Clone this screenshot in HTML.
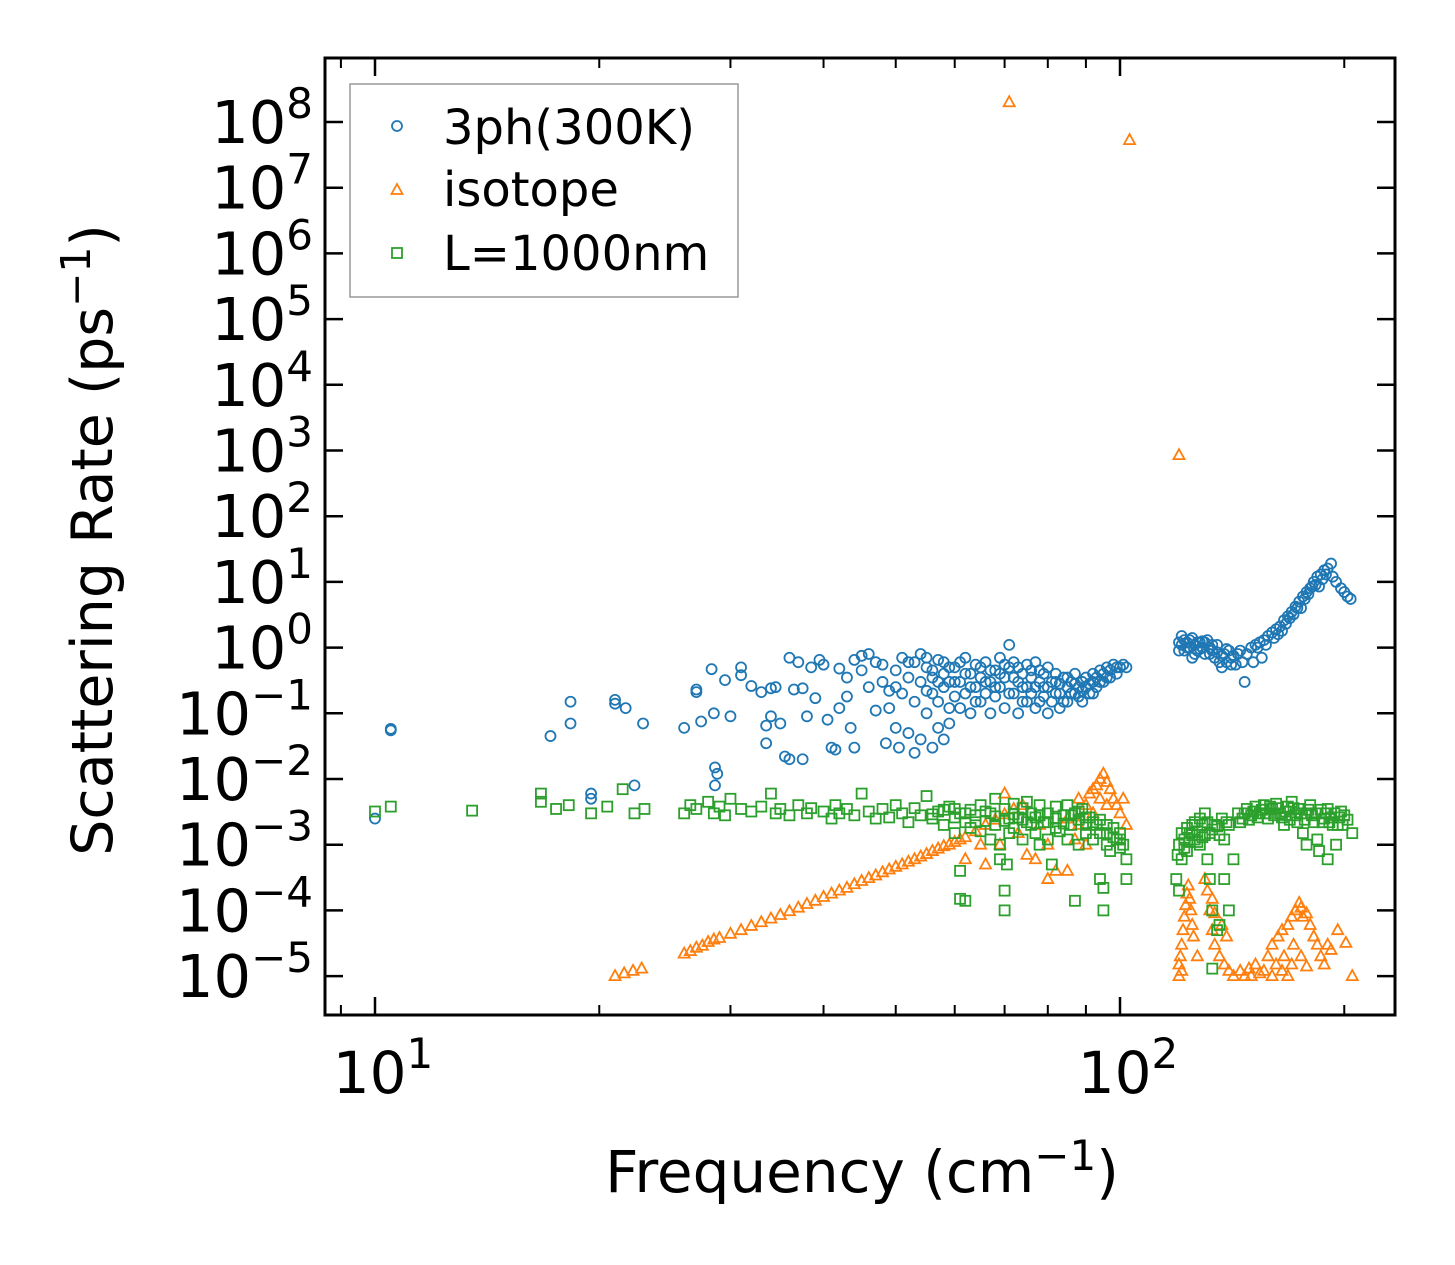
<!DOCTYPE html>
<html><head><meta charset="utf-8"><style>
html,body{margin:0;padding:0;background:#fff;}
svg{display:block;font-family:"DejaVu Sans","Liberation Sans",sans-serif;}
</style></head><body>
<svg id="chart" width="1455" height="1265" viewBox="0 0 1455 1265" xmlns="http://www.w3.org/2000/svg">
<rect width="1455" height="1265" fill="#fff"/>
<g id="marks"></g>
<g id="axes"></g>
<g>
<rect x="350" y="84" width="388" height="213" fill="#fff" fill-opacity="0.8" stroke="#999" stroke-width="1.5"/>
<circle cx="397" cy="126" r="5" fill="none" stroke="#1f77b4" stroke-width="1.8"/>
<text x="443" y="144" font-size="48">3ph(300K)</text>
<path d="M397,184 L402.5,194 L391.5,194 Z" fill="none" stroke="#ff7f0e" stroke-width="1.8"/>
<text x="443" y="206" font-size="48">isotope</text>
<rect x="392" y="248" width="10" height="10" fill="none" stroke="#2ca02c" stroke-width="1.8"/>
<text x="443" y="270" font-size="48">L=1000nm</text>
</g>
<text x="0" y="0" font-size="57" text-anchor="middle" transform="translate(112,540) rotate(-90)">Scattering Rate (ps<tspan font-size="41" dy="-22">−1</tspan><tspan dy="22">)</tspan></text>
<text x="862" y="1192" font-size="58" text-anchor="middle">Frequency (cm<tspan font-size="42" dy="-22">−1</tspan><tspan dy="22">)</tspan></text>
</svg>
<script>
const blue3ph = [[10,0.0025],[10.5,0.055],[10.5,0.058],[17.2,0.045],[18.3,0.15],[18.3,0.07],[19.5,0.006],[19.5,0.005],[21,0.16],[21,0.14],[21.7,0.12],[22.3,0.008],[22.9,0.07],[26,0.06],[27,0.23],[27,0.21],[27.4,0.075],[28.3,0.47],[28.5,0.1],[28.6,0.015],[28.6,0.008],[28.8,0.012],[29.5,0.32],[30,0.09],[31,0.5],[31,0.38],[32,0.26],[33,0.21],[33.5,0.065],[33.5,0.035],[34,0.24],[34,0.09],[34.5,0.25],[35,0.07],[35.5,0.022],[36,0.02],[36,0.7],[36.5,0.23],[37,0.6],[37.5,0.24],[37.5,0.02],[38,0.09],[38.5,0.5],[39,0.17],[39.5,0.65],[40,0.55],[40.5,0.08],[41,0.03],[41.5,0.028],[42,0.12],[42,0.48],[43,0.35],[43,0.18],[43.5,0.06],[44,0.65],[44,0.03],[45,0.75],[45,0.45],[46,0.8],[46,0.25],[47,0.11],[47,0.6],[48,0.3],[48,0.55],[48.5,0.035],[49,0.12],[49,0.22],[50,0.45],[50,0.06],[50.5,0.03],[51,0.7],[51,0.2],[52,0.35],[52,0.05],[53,0.6],[53,0.15],[53,0.025],[54,0.8],[54,0.3],[54,0.04],[55,0.1],[55,0.5],[56,0.2],[56,0.03],[57,0.65],[57,0.06],[58,0.25],[58,0.4],[59,0.12],[59,0.07],[60,0.5],[60,0.18],[61,0.3],[61,0.12],[62,0.7],[62,0.2],[63,0.4],[63,0.1],[64,0.25],[64,0.55],[65,0.15],[65,0.35],[66,0.6],[66,0.2],[67,0.3],[67,0.1],[68,0.45],[68,0.18],[69,0.7],[69,0.25],[70,0.35],[70,0.12],[71,1.1],[71,0.5],[72,0.2],[72,0.6],[73,0.3],[73,0.1],[74,0.4],[74,0.15],[75,0.55],[75,0.25],[76,0.2],[76,0.35],[77,0.6],[77,0.12],[78,0.3],[78,0.45],[79,0.18],[79,0.25],[80,0.5],[80,0.1],[81,0.3],[82,0.2],[82,0.4],[83,0.12],[83,0.28],[84,0.35],[85,0.15],[85,0.25],[86,0.3],[87,0.2],[87,0.4],[88,0.25],[89,0.3],[89,0.15],[90,0.35],[91,0.28],[92,0.4],[92,0.2],[93,0.35],[94,0.45],[94,0.3],[95,0.4],[96,0.5],[96,0.35],[97,0.45],[98,0.55],[99,0.5],[100,0.5],[101,0.55],[102,0.5],[50,0.25],[52,0.6],[55,0.7],[56,0.35],[57,0.15],[58,0.04],[59,0.3],
[55,0.22],[56,0.45],[57,0.3],[58,0.6],[59,0.5],[60,0.3],[61,0.6],[62,0.4],[63,0.25],[64,0.15],[65,0.5],[66,0.3],[67,0.45],[68,0.25],[69,0.4],[70,0.55],[71,0.2],[72,0.35],[73,0.5],[74,0.25],[75,0.15],[76,0.45],[77,0.25],[78,0.15],[79,0.4],[80,0.25],[81,0.15],[82,0.3],[83,0.2],[84,0.15],[85,0.35],[86,0.2],[87,0.28],[88,0.18],[89,0.22],[90,0.25],[91,0.2],[92,0.3],[93,0.25],[95,0.3],[97,0.35],[99,0.4],
[120,1.2],[120,0.9],[121,1.5],[121,1.1],[122,1.3],[122,0.9],[123,1.2],[124,1],[125,1.4],[126,1.1],[127,0.9],[128,1.2],[129,1],[130,0.8],[131,1.3],[132,1],[133,0.9],[134,0.7],[135,1.1],[136,0.6],[137,0.5],[138,0.8],[139,0.6],[140,0.9],[141,0.7],[142,0.75],[143,0.55],[144,0.8],[145,0.9],[146,0.6],[147,0.3],[148,0.8],[150,1],[151,0.6],[152,1.1],[154,1.2],[156,1.3],[158,1.5],[160,1.7],[162,1.9],[164,2.1],[166,2.6],[168,3],[170,3.5],[172,4.2],[174,5],[176,6],[178,7],[180,8],[182,10],[184,12],[186,13],[188,15],[190,16],[192,19],[193,12],[195,10],[198,8],[200,7],[202,6],[204,5.5],[155,0.7],[165,1.8],[175,4],[185,8.5],[125,0.7],[130,1.2],
[123,1],[124,1.3],[126,0.8],[127,1.2],[128,0.95],[129,1.25],[132,0.8],[133,1.1],[135,0.85],[137,0.75],[139,0.95],[141,0.55],[153,1],[157,1.1],[161,1.4],[163,1.6],[167,2.3],[169,2.8],[171,3.2],[173,4],[177,5.5],[179,6.5],[181,8.5],[183,9],[187,11],[189,13]];
const orangeIsotope = [[21,1e-5],[21.6,1.1e-5],[22.2,1.2e-5],[22.8,1.3e-5],[26,2.2e-5],[26.5,2.4e-5],[27,2.7e-5],[27.5,2.9e-5],[28,3.3e-5],[28.5,3.6e-5],[29,3.8e-5],[30,4.4e-5],[31,5e-5],[32,5.8e-5],[33,6.6e-5],[34,7.5e-5],[35,8.5e-5],[36,9.7e-5],[37,1.1e-4],[38,1.25e-4],[39,1.4e-4],[40,1.6e-4],[41,1.8e-4],[42,2e-4],[43,2.2e-4],[44,2.5e-4],[45,2.8e-4],[46,3.1e-4],[47,3.4e-4],[48,3.8e-4],[49,4.2e-4],[50,4.6e-4],[51,5e-4],[52,5.5e-4],[53,6e-4],[54,6.6e-4],[55,7.2e-4],[56,8e-4],[57,8.7e-4],[58,9.5e-4],[59,1e-3],[60,1.1e-3],[61,1.2e-3],[62,1.3e-3],[64,1.6e-3],[66,2e-3],[68,2.4e-3],[70,2.9e-3],[72,3.5e-3],[74,4e-3],
[62,6e-4],[65,1e-3],[70,6e-3],[73,1.5e-3],[75,7e-4],[78,2e-3],[80,1e-3],[82,4e-4],[85,2.5e-3],[87,1.2e-3],[88,5e-3],[90,4e-3],[91,6e-3],[92,7e-3],[93,8e-3],[94,1e-2],[95,1.2e-2],[96,9e-3],[97,7e-3],[98,5e-3],[99,4e-3],[100,3e-3],[101,5e-3],[102,2e-3],[92,3e-3],[94,5e-3],[96,4e-3],[85,4e-4],[80,3e-4],[77,6e-4],[69,1e-3],[66,5e-4],[88,2e-3],[90,1e-3],
[71,2e8],[103,5.3e7],[120,850],
[120,1e-5],[120,1.5e-5],[120.5,2e-5],[121,3e-5],[121.5,5e-5],[122,8e-5],[122.5,1.2e-4],[123,1.8e-4],[123.5,2.4e-4],[124,1.5e-4],[124.5,1e-4],[125,6e-5],[121,1.2e-5],[125.5,4e-5],[127,2e-5],[130,3e-4],[131,2e-4],[132,1e-4],[133,5e-5],[134,3e-5],[136,2e-5],[138,1.5e-5],[140,1.2e-5],[142,1e-5],[145,1.2e-5],[147,1e-5],[149,1.3e-5],[150,1e-5],[152,1.5e-5],[154,1.1e-5],[156,1.2e-5],[158,2e-5],[160,3e-5],[162,1.5e-5],[163,4e-5],[165,5e-5],[166,2e-5],[168,6e-5],[170,8e-5],[171,3e-5],[172,1e-4],[174,1.3e-4],[175,1.1e-4],[176,8e-5],[178,9e-5],[180,6e-5],[182,4e-5],[184,3e-5],[186,2e-5],[188,1.5e-5],[190,3e-5],[192,2.5e-5],[205,1e-5],[201,3.2e-5],[196,5e-5],[160,1e-5],[165,1.2e-5],[170,1.5e-5],[175,2e-5],[168,1e-5],[178,1.4e-5],[139,4e-5],[137,6e-5],[133,1.5e-4],[134,9e-5]];
const greenBoundary = [[10,3.2e-3],[10.5,3.8e-3],[13.5,3.3e-3],[16.7,6e-3],[16.7,4.5e-3],[17.5,3.5e-3],[18.2,4e-3],[19.5,3e-3],[20.5,3.8e-3],[21.5,7e-3],[22.3,3e-3],[23,3.5e-3],[26,3e-3],[26.5,4e-3],[27,3.5e-3],[28,4.5e-3],[28.5,3e-3],[29,3.8e-3],[29.5,2.8e-3],[30,5e-3],[31,3.5e-3],[32,3.2e-3],[33,3.8e-3],[34,6e-3],[34.5,3e-3],[35,3.5e-3],[36,2.8e-3],[37,4e-3],[38,3e-3],[38.5,3.6e-3],[40,3.2e-3],[41,2.5e-3],[41.5,4e-3],[42,3e-3],[43,3.5e-3],[44,2.8e-3],[45,6e-3],[46,3.2e-3],[47,2.5e-3],[48,3.5e-3],[49,2.6e-3],[50,4e-3],[51,3e-3],[52,2.2e-3],[53,3.6e-3],[54,2.8e-3],[55,5.5e-3],[56,2.5e-3],[57,3.2e-3],[58,2e-3],[59,3.8e-3],[60,2.6e-3],[60,1.5e-3],[61,3e-3],[61,4e-4],[61,1.5e-4],[62,2.2e-3],[62,1.4e-4],[63,3.4e-3],[63,1.8e-3],[64,2.8e-3],[65,1.6e-3],[65,4e-3],[66,2.3e-3],[67,3e-3],[67,1.2e-3],[68,5e-3],[68,2e-3],[69,1e-3],[69,6e-4],[70,3.5e-3],[70,2e-4],[70,1e-4],[70.5,5e-4],[71,2.5e-3],[71,1.5e-3],[72,4.2e-3],[72,1.8e-3],[73,2.6e-3],[74,3.6e-3],[74,1.2e-3],[75,2.2e-3],[75,4.5e-3],[76,3e-3],[77,1.5e-3],[77,2.6e-3],[78,4e-3],[78,1e-3],[79,2.2e-3],[80,3e-3],[80,1.2e-3],[81,5e-4],[82,2.5e-3],[82,3.8e-3],[83,1.6e-3],[84,2.8e-3],[85,1.2e-3],[85,4e-3],[86,2e-3],[87,3e-3],[87,1.4e-4],[88,2.4e-3],[88,1e-3],[89,3.5e-3],[90,2e-3],[90,1.5e-3],[91,2.6e-3],[92,1.2e-3],[93,2e-3],[94,1.5e-3],[94,3e-4],[95,2.2e-4],[95,1e-4],[96,1e-3],[96,2e-3],[97,8e-4],[98,1.8e-3],[99,1.2e-3],[100,9e-4],[100,1.5e-3],[101,1e-3],[102,6e-4],[102,3e-4],
[56,2.9e-3],[58,3.4e-3],[60,3.5e-3],[62,3e-3],[64,2.2e-3],[66,3.2e-3],[68,2.7e-3],[70,2.3e-3],[72,2.9e-3],[74,2.4e-3],[76,2e-3],[78,2.8e-3],[80,2.2e-3],[82,1.8e-3],[84,2.1e-3],[86,2.8e-3],[88,3.2e-3],[90,2.6e-3],[92,2.2e-3],[94,2.4e-3],[96,1.5e-3],[98,1.3e-3],[100,1.2e-3],
[119,3e-4],[119.5,7e-4],[120,1e-3],[120,2e-4],[121,1.5e-3],[121,6e-4],[122,1.2e-3],[123,1.8e-3],[123,8e-4],[124,1.5e-3],[125,2e-3],[126,1.2e-3],[126,2.2e-3],[127,1.6e-3],[128,2.5e-3],[128,1e-3],[129,2e-3],[130,3e-3],[130,1.4e-3],[131,2.2e-3],[131,6e-4],[132,1.5e-3],[132,3e-4],[133,1.3e-5],[133,1e-4],[134,2e-3],[135,5e-5],[136,6e-5],[137,2.5e-3],[138,1.2e-3],[138,3e-4],[140,2e-3],[140,1e-4],[142,6e-4],[144,3e-3],[146,2.5e-3],[148,3.5e-3],[150,2.8e-3],[152,3.8e-3],[154,3e-3],[156,4e-3],[158,2.5e-3],[160,3.5e-3],[162,4.2e-3],[164,3e-3],[166,2e-3],[168,3.8e-3],[170,4.5e-3],[172,2.8e-3],[174,3.5e-3],[176,1.5e-3],[178,3e-3],[180,4e-3],[182,2.2e-3],[184,1.2e-3],[186,3.4e-3],[188,2.5e-3],[190,6e-4],[190,3.5e-3],[192,2.6e-3],[194,3e-3],[196,2e-3],[198,3.2e-3],[200,2.8e-3],[202,2.4e-3],[205,1.5e-3],[185,8e-4],[178,1e-3],[195,1e-3],
[122,9e-4],[124,1.1e-3],[125,1.4e-3],[127,1.1e-3],[129,1.3e-3],[133,1.7e-3],[135,1.9e-3],[136,1.4e-3],[139,2.2e-3],[145,2.2e-3],[147,3e-3],[149,2.4e-3],[151,3.2e-3],[153,2.6e-3],[155,3.4e-3],[157,3e-3],[159,3.8e-3],[161,2.8e-3],[163,3.6e-3],[165,2.6e-3],[167,3.2e-3],[169,2.4e-3],[171,3.6e-3],[173,2.2e-3],[175,3e-3],[177,2.4e-3],[179,3.4e-3],[181,2.8e-3],[183,3e-3],[187,2.2e-3],[189,3e-3],[191,2.2e-3],[193,2e-3],[197,2.6e-3],[199,2e-3]];
const yTickExps = [8,7,6,5,4,3,2,1,0,-1,-2,-3,-4,-5];
const xTickExps = [1,2];
const xMinorTicks = [9,20,30,40,50,60,70,80,90,200];

const L=325,R=1395,T=58,B=1015;
const X0=375, XDEC=745, Y0=122, YDEC=65.7;
function xs(f){return X0+(Math.log10(f)-1)*XDEC;}
function ys(v){return Y0+(8-Math.log10(v))*YDEC;}
const NS="http://www.w3.org/2000/svg";
const marks=document.getElementById('marks');
const axes=document.getElementById('axes');
function mk(tag,attrs,parent){const e=document.createElementNS(NS,tag);for(const k in attrs)e.setAttribute(k,attrs[k]);parent.appendChild(e);return e;}

blue3ph.forEach(p=>{
  const c=mk('circle',{cx:xs(p[0]),cy:ys(p[1]),r:5,fill:'none',stroke:'#1f77b4','stroke-width':1.8},marks);
  
  
});
orangeIsotope.forEach(p=>{
  const x=xs(p[0]),y=ys(p[1]);
  const t=mk('path',{d:`M${x},${y-6} L${x+5.5},${y+4} L${x-5.5},${y+4} Z`,fill:'none',stroke:'#ff7f0e','stroke-width':1.8},marks);
  
  
});
greenBoundary.forEach(p=>{
  const x=xs(p[0]),y=ys(p[1]);
  const s=mk('rect',{x:x-5,y:y-5,width:10,height:10,fill:'none',stroke:'#2ca02c','stroke-width':1.8},marks);
  
  
});

const fr=mk('rect',{x:L,y:T,width:R-L,height:B-T,fill:'none',stroke:'#000','stroke-width':3},axes);


yTickExps.forEach(e=>{
  const y=ys(Math.pow(10,e));
  mk('line',{x1:L,x2:L+18,y1:y,y2:y,stroke:'#000','stroke-width':2.5},axes);
  mk('line',{x1:R,x2:R-18,y1:y,y2:y,stroke:'#000','stroke-width':2.5},axes);
  const t=mk('text',{x:313,y:y+21,'font-size':59,'text-anchor':'end'},axes);
  
  
  const sup=(e<0?'−':'')+Math.abs(e);
  t.innerHTML='10<tspan font-size="42" dy="-25">'+sup+'</tspan>';
});
xTickExps.forEach(e=>{
  const x=xs(Math.pow(10,e));
  mk('line',{x1:x,x2:x,y1:B,y2:B-18,stroke:'#000','stroke-width':2.5},axes);
  mk('line',{x1:x,x2:x,y1:T,y2:T+18,stroke:'#000','stroke-width':2.5},axes);
  const t=mk('text',{x:x+8,y:1093,'font-size':58,'text-anchor':'middle'},axes);
  
  
  t.innerHTML='10<tspan font-size="42" dy="-25">'+e+'</tspan>';
});
xMinorTicks.forEach(f=>{
  const x=xs(f);
  mk('line',{x1:x,x2:x,y1:B,y2:B-10,stroke:'#000','stroke-width':2},axes);
  mk('line',{x1:x,x2:x,y1:T,y2:T+10,stroke:'#000','stroke-width':2},axes);
});
</script>
</body></html>
